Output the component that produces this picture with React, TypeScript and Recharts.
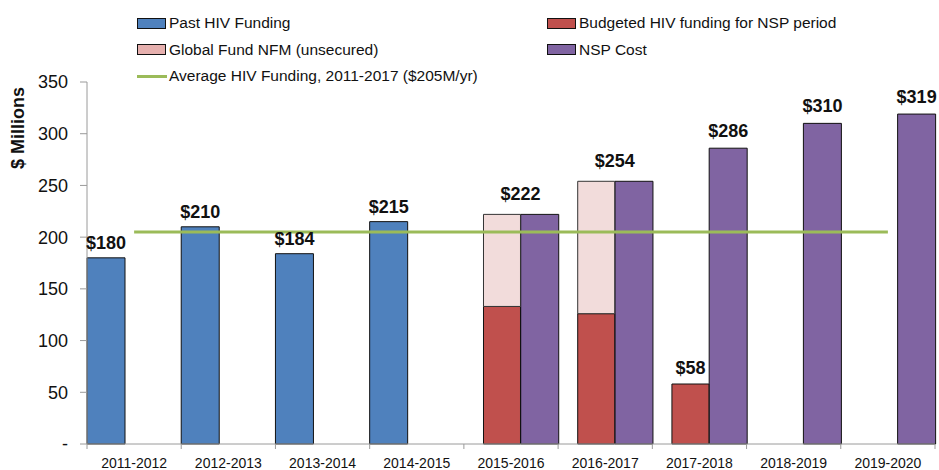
import { ComposedChart, Bar, Line, XAxis, YAxis, Legend, LabelList } from "recharts"

const categories = ["2011-2012", "2012-2013", "2013-2014", "2014-2015", "2015-2016", "2016-2017", "2017-2018", "2018-2019", "2019-2020"]
const pastFunding = [180, 210, 184, 215, null, null, null, null, null]
const budgeted = [null, null, null, null, 133, 126, 58, null, null]
const globalFund = [null, null, null, null, 89, 128, null, null, null]
const nspCost = [null, null, null, null, 222, 254, 286, 310, 319]
const averageFunding = 205
const yTicks = [0, 50, 100, 150, 200, 250, 300, 350]

const FONT = "'Liberation Sans', Arial, sans-serif"
const BLUE = "#4F81BD"
const RED = "#C0504D"
const PINK = "#F2DCDB"
const PINK_KEY = "#E6B0AE"
const PURPLE = "#8064A2"
const GREEN = "#9BBB59"

// where the Global Fund stack exists, one total label sits over the pair of bars
const data = categories.map((cat, i) => {
  const paired = globalFund[i] != null
  return {
    cat,
    past: pastFunding[i],
    budgeted: budgeted[i],
    global: globalFund[i],
    nsp: nspCost[i],
    avg: averageFunding,
    budgetedLabel: paired ? null : budgeted[i],
    nspLabel: paired ? null : nspCost[i],
    pairLabel: paired ? nspCost[i] : null,
  }
})

const legendItems = [
  { label: "Past HIV Funding", color: BLUE, col: 0, row: 0 },
  { label: "Budgeted HIV funding for NSP period", color: RED, col: 1, row: 0 },
  { label: "Global Fund NFM (unsecured)", color: PINK_KEY, col: 0, row: 1 },
  { label: "NSP Cost", color: PURPLE, col: 1, row: 1 },
  { label: "Average HIV Funding, 2011-2017 ($205M/yr)", color: GREEN, col: 0, row: 2, line: true },
]

function renderLegend() {
  return (
    <div style={{ position: "relative", width: 939, height: 80, fontFamily: FONT, fontSize: 15.5, color: "#111" }}>
      {legendItems.map((item) => (
        <div
          key={item.label}
          style={{
            position: "absolute",
            left: item.col === 0 ? 137 : 547,
            top: 14 + item.row * 26.5,
            display: "flex",
            alignItems: "center",
            height: 18,
            whiteSpace: "nowrap",
          }}
        >
          {item.line ? (
            <span style={{ width: 30, height: 3, background: item.color, marginRight: 2 }} />
          ) : (
            <span style={{ width: 27, height: 9, background: item.color, border: "1px solid #111", marginRight: 3 }} />
          )}
          <span>{item.label}</span>
        </div>
      ))}
    </div>
  )
}

function CategoryTick(props: any) {
  const { x, y, payload, index } = props
  const half = payload.offset ?? 0
  const axisY = y - 14
  return (
    <g>
      <line x1={x - half} x2={x - half} y1={axisY} y2={axisY + 5} stroke="#9a9a9a" />
      {index === categories.length - 1 && (
        <line x1={x + half} x2={x + half} y1={axisY} y2={axisY + 5} stroke="#9a9a9a" />
      )}
      <text x={x} y={y} dy="0.71em" textAnchor="middle" fontFamily={FONT} fontSize={14} fill="#111">
        {payload.value}
      </text>
    </g>
  )
}

function YTitle(props: any) {
  const { viewBox } = props
  const x = 18
  const y = viewBox.y + 46
  return (
    <text x={x} y={y} transform={`rotate(-90, ${x}, ${y})`} textAnchor="middle" dominantBaseline="central"
      fontFamily={FONT} fontSize={18} fontWeight="bold" fill="#111">
      $ Millions
    </text>
  )
}

// anchor: "center" of the bar, or its "right" edge (shared label for a pair)
function valueLabel(gap: number, anchor: "center" | "right") {
  return (props: any) => {
    const { x, y, width, value } = props
    if (value == null) return null
    const cx = anchor === "right" ? x + width : x + width / 2
    return (
      <text x={cx} y={y - gap} textAnchor="middle" fontFamily={FONT} fontSize={18} fontWeight="bold" fill="#111">
        {"$" + value}
      </text>
    )
  }
}

export default function App() {
  return (
    <div style={{ position: "absolute", left: 0, top: 0, background: "#fff" }}>
      <ComposedChart
        width={939}
        height={470}
        data={data}
        margin={{ top: 2, right: 4, bottom: 0, left: 0 }}
        barCategoryGap="0%"
        barGap="20%"
      >
        <Legend verticalAlign="top" align="left" content={renderLegend} wrapperStyle={{ top: 0, left: 0, width: 939, height: 80 }} />
        <XAxis
          xAxisId="main"
          dataKey="cat"
          height={26}
          stroke="#9a9a9a"
          tickLine={false}
          tickSize={0}
          tickMargin={14}
          tick={<CategoryTick />}
          interval={0}
        />
        <XAxis xAxisId="stack" dataKey="cat" hide padding={{ left: -9.4, right: 9.4 }} />
        <YAxis
          width={87}
          domain={[0, 350]}
          ticks={yTicks}
          stroke="#9a9a9a"
          tickSize={7}
          tickMargin={12}
          tick={{ fontFamily: FONT, fontSize: 18, fill: "#111" }}
          tickFormatter={(v: number) => (v === 0 ? "-" : String(v))}
          label={<YTitle />}
        />
        <Bar xAxisId="main" dataKey="past" fill={BLUE} stroke="#111" strokeWidth={1} isAnimationActive={false}>
          <LabelList dataKey="past" content={valueLabel(9, "center")} />
        </Bar>
        <Bar xAxisId="main" dataKey="nsp" fill={PURPLE} stroke="#111" strokeWidth={1} isAnimationActive={false}>
          <LabelList dataKey="nspLabel" content={valueLabel(11, "center")} />
        </Bar>
        <Bar xAxisId="stack" dataKey="budgeted" stackId="s" barSize={37} fill={RED} stroke="#111" strokeWidth={1} isAnimationActive={false}>
          <LabelList dataKey="budgetedLabel" content={valueLabel(10, "center")} />
        </Bar>
        <Bar xAxisId="stack" dataKey="global" stackId="s" barSize={37} fill={PINK} stroke="#333" strokeWidth={1} isAnimationActive={false}>
          <LabelList dataKey="pairLabel" content={valueLabel(14, "right")} />
        </Bar>
        <Line xAxisId="main" dataKey="avg" stroke={GREEN} strokeWidth={3} dot={false} activeDot={false} isAnimationActive={false} />
      </ComposedChart>
    </div>
  )
}
